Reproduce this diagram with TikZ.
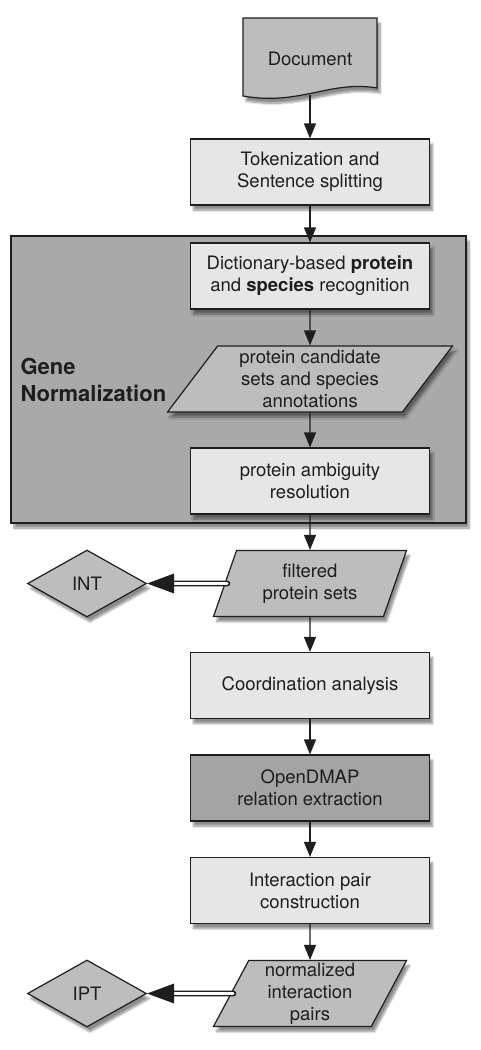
\documentclass[tikz,border=0pt]{standalone}
\usepackage{fontspec}
\setmainfont{TeX Gyre Heros}
\usepackage{tikz}
\usetikzlibrary{arrows.meta}
\usetikzlibrary{positioning,calc}
\usetikzlibrary{shapes,shadows,shadows.blur}
\usepackage{xcolor}
\definecolor{lightbox}{HTML}{E6E6E6}
\definecolor{midgray}{HTML}{BDBDBD}
\definecolor{groupgray}{HTML}{A9A9A9}
\definecolor{darkbox}{HTML}{A4A4A4}
\definecolor{ink}{HTML}{1E1E1E}
\tikzset{
    shade/.style={
        blur shadow={shadow xshift=3pt, shadow yshift=-5pt, shadow blur steps=8, shadow opacity=45}
    },
    stepbox/.style={
        draw=ink,
        line width=1.2pt,
        fill=lightbox,
        minimum width=239pt,
        minimum height=66pt,
        align=center,
        text=ink,
        shade
    },
    datanode/.style={
        draw=ink,
        line width=1.2pt,
        fill=midgray,
        trapezium,
        trapezium stretches body,
        minimum height=66pt,
        inner ysep=1pt,
        align=center,
        text=ink,
        shade
    },
    outnode/.style={
        draw=ink,
        line width=1.2pt,
        fill=midgray,
        diamond,
        minimum width=119pt,
        minimum height=67pt,
        inner sep=0pt,
        text=ink,
        shade
    },
    flow/.style={
        draw=ink,
        -{Triangle[length=15pt, width=12pt]},
        line width=1.3pt
    },
    export/.style={
        draw=ink,
        double=white,
        double distance=2.6pt,
        line width=1.6pt,
        line cap=round
    }
}

\begin{document}
\begin{tikzpicture}[x=1pt, y=-1pt, font=\fontsize{18.5}{22}\selectfont]
    \useasboundingbox (0,0) rectangle (480,1050);

    % Gene normalization group
    \node[draw=ink, line width=1.6pt, fill=groupgray, minimum width=455pt, minimum height=287pt, shade] (gn) at (238.5,379.5) {};
    \node[font=\fontsize{22}{27}\selectfont\bfseries, align=left, anchor=west, text=ink] (gnlabel) at (17,380) {Gene\\Normalization};

    % Input document
    \draw[draw=ink, line width=1.2pt, fill=midgray, shade]
        (243,18) -- (377,18) -- (377,88)
        .. controls (330,80) and (300,106) .. (243,96) -- cycle;
    \node[text=ink] (doc) at (310,59) {Document};
    \coordinate (docbot) at (310,95);

    % Processing steps
    \node[stepbox] (tok) at (310,172) {Tokenization and\\Sentence splitting};
    \node[stepbox] (dict) at (310,276) {Dictionary-based \textbf{protein}\\and \textbf{species} recognition};
    \node[datanode, trapezium left angle=50, trapezium right angle=130, minimum width=285pt] (cand) at (310,379) {protein candidate\\sets and species\\annotations};
    \node[stepbox] (amb) at (310,481) {protein ambiguity\\resolution};
    \node[datanode, trapezium left angle=61, trapezium right angle=119, minimum width=193pt] (filt) at (310,583.5) {filtered\\protein sets};
    \node[stepbox] (coord) at (310,685.5) {Coordination analysis};
    \node[stepbox, fill=darkbox] (odmap) at (310,788) {OpenDMAP\\relation extraction};
    \node[stepbox] (ipc) at (310,890.5) {Interaction pair\\construction};
    \node[datanode, trapezium left angle=61, trapezium right angle=119, minimum width=193pt] (norm) at (310,993.5) {normalized\\interaction\\pairs};

    % Outputs
    \node[outnode] (int) at (87,583.5) {INT};
    \node[outnode] (ipt) at (87,993.5) {IPT};

    % Main flow
    \draw[flow] (docbot) -- (tok.north);
    \draw[flow] (tok.south) -- (dict.north);
    \draw[flow] (dict.south) -- (cand.north);
    \draw[flow] (cand.south) -- (amb.north);
    \draw[flow] (amb.south) -- (filt.north);
    \draw[flow] (filt.south) -- (coord.north);
    \draw[flow] (coord.south) -- (odmap.north);
    \draw[flow] (odmap.south) -- (ipc.north);
    \draw[flow] (ipc.south) -- (norm.north);

    % Exported results
    \draw[export, shorten >=24pt] ($(filt.west)+(3,0)$) -- (int.east);
    \fill[ink] (int.east) -- ($(int.east)+(27,-10)$) -- ($(int.east)+(27,10)$) -- cycle;
    \draw[export, shorten >=24pt] ($(norm.west)+(3,0)$) -- (ipt.east);
    \fill[ink] (ipt.east) -- ($(ipt.east)+(27,-10)$) -- ($(ipt.east)+(27,10)$) -- cycle;
\end{tikzpicture}
\end{document}
